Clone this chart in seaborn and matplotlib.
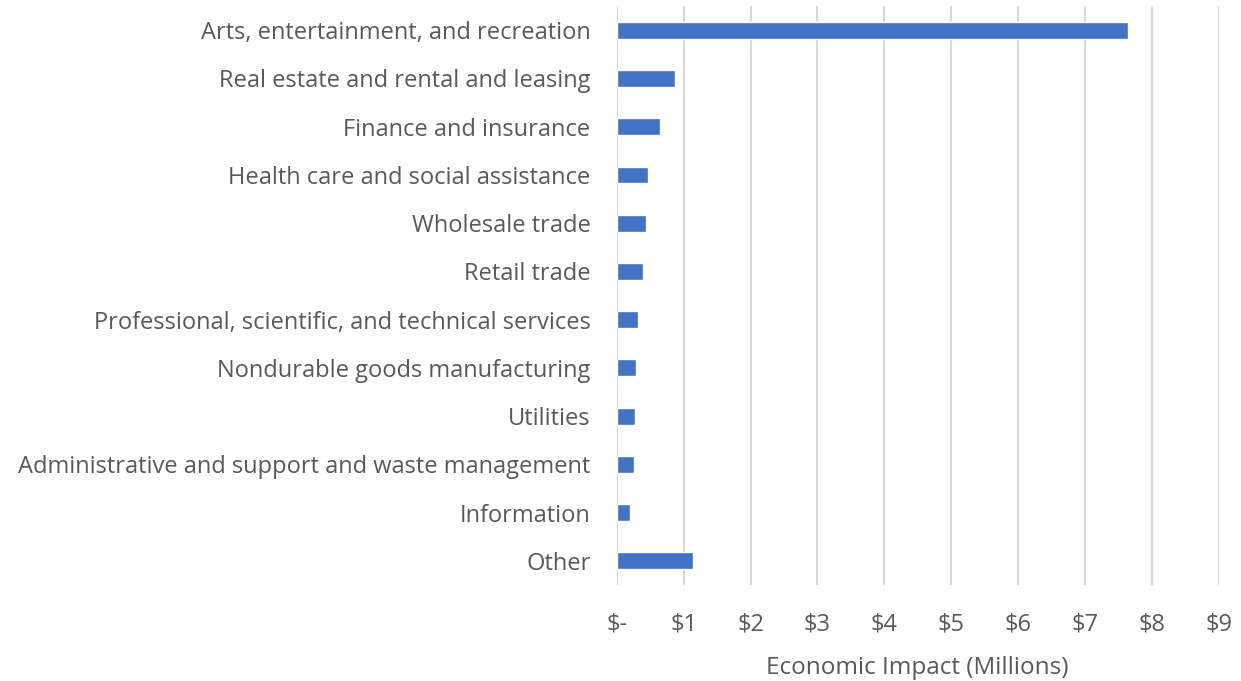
import matplotlib
matplotlib.use("Agg")
import matplotlib.pyplot as plt
import seaborn as sns
import pandas as pd

industries = [
    "Arts, entertainment, and recreation",
    "Real estate and rental and leasing",
    "Finance and insurance",
    "Health care and social assistance",
    "Wholesale trade",
    "Retail trade",
    "Professional, scientific, and technical services",
    "Nondurable goods manufacturing",
    "Utilities",
    "Administrative and support and waste management",
    "Information",
    "Other",
]
impact_millions = [7.64, 0.87, 0.65, 0.47, 0.44, 0.39, 0.32, 0.29, 0.27, 0.26, 0.195, 1.14]
tick_values = list(range(10))
tick_labels = ["$-"] + [f"${v}" for v in tick_values[1:]]

df = pd.DataFrame({"Industry": industries, "Impact": impact_millions})

sns.set_style("white")
plt.rcParams["font.family"] = ["Open Sans", "DejaVu Sans"]
text_color = "#595959"

fig = plt.figure(figsize=(12.41, 6.81), dpi=100)
ax = fig.add_axes([0.497, 0.141, 0.485, 0.85])

sns.barplot(data=df, x="Impact", y="Industry", orient="h", color="#4472C4",
            width=0.35, saturation=1, ax=ax)

ax.set_xlim(0, 9)
ax.set_xticks(tick_values)
ax.set_xticklabels(tick_labels)
ax.grid(axis="x", color="#d9d9d9", linewidth=1.5)
ax.set_axisbelow(True)
for s in ax.spines.values():
    s.set_visible(False)
ax.tick_params(axis="both", length=0, labelsize=17, colors=text_color)
ax.tick_params(axis="x", pad=20)
ax.tick_params(axis="y", pad=19)
ax.set_ylabel("")
ax.set_xlabel("Economic Impact (Millions)", fontsize=17.5, color=text_color, labelpad=14)

fig.savefig("out.png", dpi=100)
